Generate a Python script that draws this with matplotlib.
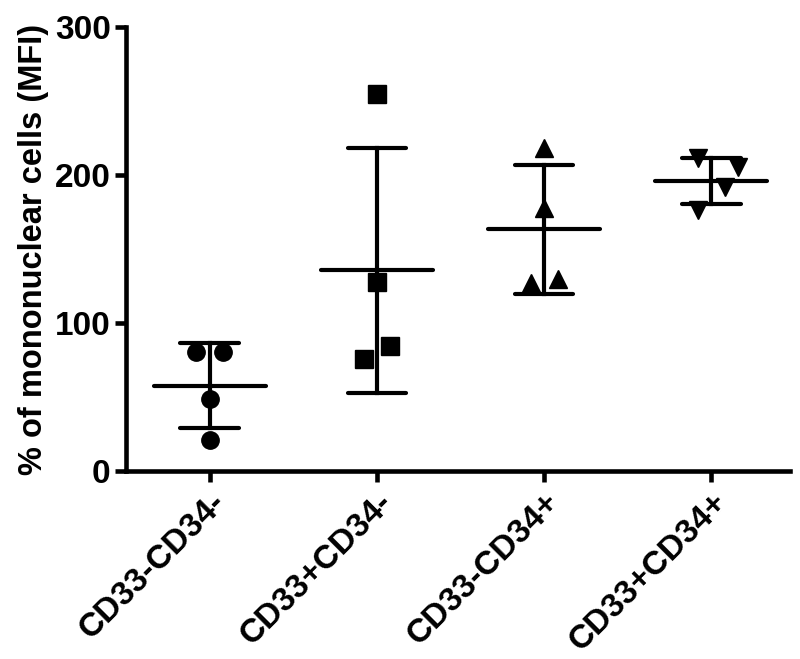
import numpy as np
import matplotlib
matplotlib.use('Agg')
import matplotlib.pyplot as plt

plt.rcParams['font.family'] = ['Liberation Sans', 'DejaVu Sans']
plt.rcParams['font.weight'] = 'bold'

groups = ['CD33-CD34-', 'CD33+CD34-', 'CD33-CD34+', 'CD33+CD34+']
markers = ['o', 's', '^', 'v']

# individual MFI values per group
vals_g1 = [80.6, 80.6, 48.6, 21.0]
vals_g2 = [255.0, 127.5, 84.5, 75.9]
vals_g3 = [218.0, 178.0, 127.0, 130.0]
vals_g4 = [211.3, 205.6, 191.7, 176.4]
# horizontal scatter offsets of the dots within each group
offs_g1 = [-0.08, 0.08, 0.0, 0.0]
offs_g2 = [0.0, 0.0, 0.08, -0.08]
offs_g3 = [0.0, 0.0, -0.08, 0.08]
offs_g4 = [-0.08, 0.16, 0.08, -0.08]

all_vals = [vals_g1, vals_g2, vals_g3, vals_g4]
all_offs = [offs_g1, offs_g2, offs_g3, offs_g4]

fig = plt.figure(figsize=(8, 6.59), dpi=100)
ax = fig.add_axes([0.1575, 0.285, 0.83, 0.674])

for i, (v, o, m) in enumerate(zip(all_vals, all_offs, markers)):
    v = np.array(v)
    x = i + np.array(o)
    ax.plot(x, v, linestyle='none', marker=m, color='black', markersize=12.5, zorder=3)
    mean = v.mean()
    sd = v.std(ddof=1)
    ax.plot([i - 0.335, i + 0.335], [mean, mean], color='black', lw=3, solid_capstyle='round')
    ax.plot([i, i], [mean - sd, mean + sd], color='black', lw=3)
    for y in (mean - sd, mean + sd):
        ax.plot([i - 0.175, i + 0.175], [y, y], color='black', lw=3, solid_capstyle='round')

ax.set_xlim(-0.5, 3.47)
ax.set_ylim(0, 300)
ax.set_yticks([0, 100, 200, 300])
ax.set_xticks(range(len(groups)))
ax.set_xticklabels(groups, rotation=45, ha='right', rotation_mode='anchor')

for s in ['top', 'right']:
    ax.spines[s].set_visible(False)
for s in ['left', 'bottom']:
    ax.spines[s].set_linewidth(3.3)
ax.tick_params(axis='both', width=3.3, length=8, labelsize=24, pad=3)
for lab in ax.get_xticklabels() + ax.get_yticklabels():
    lab.set_fontweight('bold')

ax.set_ylabel('% of mononuclear cells (MFI)', fontsize=23.5, fontweight='bold', labelpad=4)

fig.savefig('out.png', dpi=100)
